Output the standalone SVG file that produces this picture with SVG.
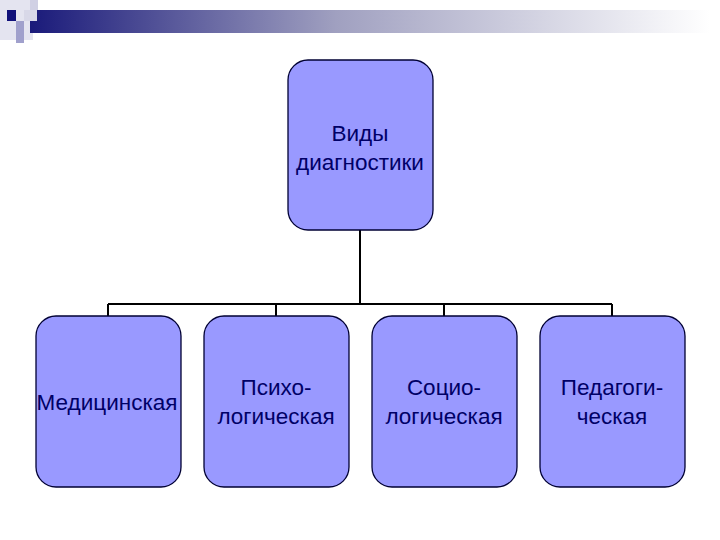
<svg xmlns="http://www.w3.org/2000/svg" width="720" height="540" viewBox="0 0 720 540">
<defs>
<linearGradient id="bar" x1="0" x2="1" y1="0" y2="0">
<stop offset="0" stop-color="#1a1a7a"/>
<stop offset="0.45" stop-color="#a0a0c0"/>
<stop offset="1" stop-color="#ffffff"/>
</linearGradient>
<style>
.box{fill:#9999ff;stroke:#000033;stroke-width:1.3}
.t{font-family:"Liberation Sans",Arial,sans-serif;font-size:22.5px;fill:#000066;text-anchor:middle}
.c{stroke:#000;stroke-width:2;fill:none}
</style>
</defs>
<rect width="720" height="540" fill="#fff"/>
<g id="decor">
<rect x="0" y="0" width="33" height="40" fill="#e4e4f0"/>
<rect x="30" y="10" width="680" height="23" fill="url(#bar)"/>
<rect x="7" y="10" width="9" height="11" fill="#10107a"/>
<rect x="16" y="21" width="8" height="22" fill="#a0a0cc"/>
<rect x="24" y="10" width="13" height="11" fill="#d8d8e8"/>
<rect x="30" y="0" width="8" height="10" fill="#d0d0e4"/>
</g>
<g id="connectors">
<path class="c" d="M360 230V304M108 304H612M108 304V316M276 304V316M444 304V316M612 304V316"/>
</g>
<g id="root"><rect class="box" x="288" y="60" width="145" height="170" rx="20"/>
<text class="t" x="360" y="141">Виды</text><text class="t" x="360" y="170">диагностики</text></g>
<g id="n1"><rect class="box" x="36" y="316" width="145" height="171" rx="20"/>
<text class="t" x="107" y="410">Медицинская</text></g>
<g id="n2"><rect class="box" x="204" y="316" width="145" height="171" rx="20"/>
<text class="t" x="276" y="395">Психо-</text><text class="t" x="276" y="424">логическая</text></g>
<g id="n3"><rect class="box" x="372" y="316" width="145" height="171" rx="20"/>
<text class="t" x="444" y="395">Социо-</text><text class="t" x="444" y="424">логическая</text></g>
<g id="n4"><rect class="box" x="540" y="316" width="145" height="171" rx="20"/>
<text class="t" x="612" y="395">Педагоги-</text><text class="t" x="612" y="424">ческая</text></g>
</svg>
